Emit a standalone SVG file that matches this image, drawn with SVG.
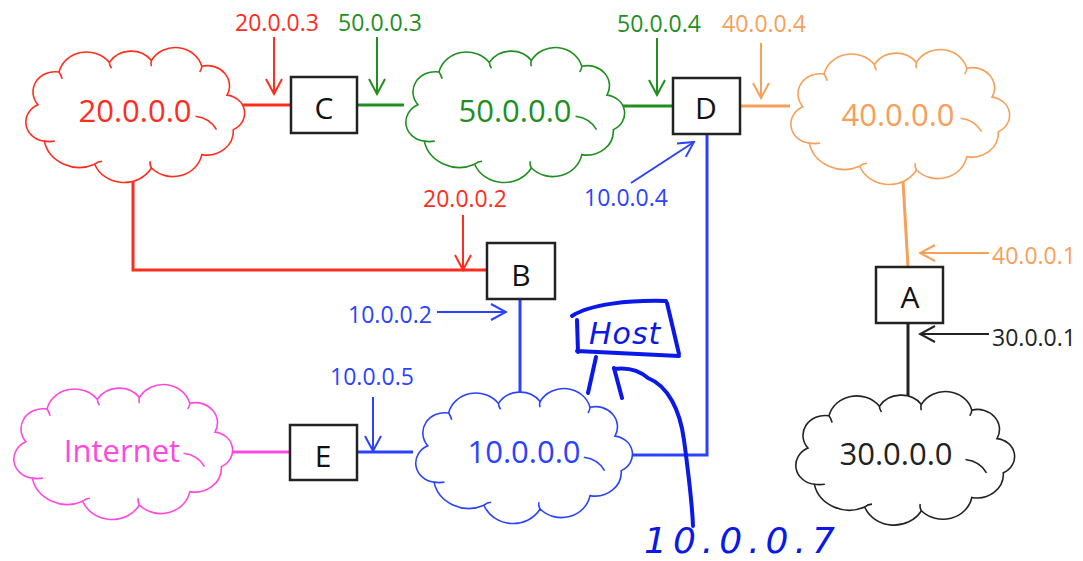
<svg xmlns="http://www.w3.org/2000/svg" xmlns:xlink="http://www.w3.org/1999/xlink" width="1083" height="561" viewBox="0 0 1083 561">
<style>
.bg{fill:#ffffff}
.cl{fill:#ffffff;stroke-width:1.6;vector-effect:non-scaling-stroke}
.tk{fill:none;stroke-width:1.6;vector-effect:non-scaling-stroke}
.box{fill:#ffffff;stroke:#222;stroke-width:2.5}
.bl{font-family:"Open Sans","Liberation Sans",sans-serif;font-size:30px;fill:#111;text-anchor:middle}
.cn{font-family:"Open Sans","Liberation Sans",sans-serif;font-size:31px;text-anchor:middle}
.ip{font-family:"Open Sans","Liberation Sans",sans-serif;font-size:23px;text-anchor:middle}
.ln{fill:none;stroke-width:3}
.ar{fill:none;stroke-width:2}
.red{stroke:#ff2d1e}.redf{fill:#ff2d1e}
.grn{stroke:#1f8f1f}.grnf{fill:#1f8f1f}
.org{stroke:#f7a05a}.orgf{fill:#f7a05a}
.blu{stroke:#2b43ff}.bluf{fill:#2b43ff}
.pnk{stroke:#ff48dd}.pnkf{fill:#ff48dd}
.blk{stroke:#222}.blkf{fill:#222}
.hw{fill:none;stroke:#0a18e8;stroke-width:4;stroke-linecap:round;stroke-linejoin:round}
.hwt{font-family:"DejaVu Sans","Liberation Sans",sans-serif;font-style:italic;fill:#0a18e8}
</style>
<defs>
<g id="cloud">
<path class="cl" d="M 20,58 A 21,21 0 0 1 40,24 A 27,27 0 0 1 88,14 A 24,24 0 0 1 128,12 A 26,26 0 0 1 176,18 A 21,21 0 0 1 200,48 A 19,19 0 0 1 206,84 A 25,25 0 0 1 176,110 A 28,28 0 0 1 128,124 A 30,30 0 0 1 74,120 A 34,34 0 0 1 26,96 A 20,20 0 0 1 20,58 Z"/>
<path class="tk" d="M 40,24 q 2,3 3,7 M 88,14 q 0,3 2,6 M 128,12 q -1,3 0,6 M 176,18 q 0,3 -2,6 M 170,70 Q 184,72 190,84 M 128,124 q -2,-4 -1,-7 M 74,120 q 3,-3 7,-3 M 26,96 q 5,1 10,0"/>
</g>
<marker id="mRed" viewBox="-18 -10 20 20" markerWidth="20" markerHeight="20" refX="0" refY="0" orient="auto" markerUnits="userSpaceOnUse"><path d="M-15,-8 L0,0 L-15,8" fill="none" stroke="#ff2d1e" stroke-width="2"/></marker>
<marker id="mGrn" viewBox="-18 -10 20 20" markerWidth="20" markerHeight="20" refX="0" refY="0" orient="auto" markerUnits="userSpaceOnUse"><path d="M-15,-8 L0,0 L-15,8" fill="none" stroke="#1f8f1f" stroke-width="2"/></marker>
<marker id="mOrg" viewBox="-18 -10 20 20" markerWidth="20" markerHeight="20" refX="0" refY="0" orient="auto" markerUnits="userSpaceOnUse"><path d="M-15,-8 L0,0 L-15,8" fill="none" stroke="#f7a05a" stroke-width="2"/></marker>
<marker id="mBlu" viewBox="-18 -10 20 20" markerWidth="20" markerHeight="20" refX="0" refY="0" orient="auto" markerUnits="userSpaceOnUse"><path d="M-15,-8 L0,0 L-15,8" fill="none" stroke="#2b43ff" stroke-width="2"/></marker>
<marker id="mBlk" viewBox="-18 -10 20 20" markerWidth="20" markerHeight="20" refX="0" refY="0" orient="auto" markerUnits="userSpaceOnUse"><path d="M-15,-8 L0,0 L-15,8" fill="none" stroke="#222" stroke-width="2"/></marker>
</defs>
<rect class="bg" x="0" y="0" width="1083" height="561"/>

<g id="connectors">
<line class="ln red" x1="240" y1="105" x2="291" y2="105"/>
<polyline class="ln red" points="133,180 133,270 487,270"/>
<line class="ln grn" x1="357" y1="105" x2="404" y2="105"/>
<line class="ln grn" x1="620" y1="106" x2="673" y2="106"/>
<line class="ln org" x1="740" y1="106" x2="790" y2="106"/>
<line class="ln org" x1="903" y1="181" x2="908" y2="267"/>
<line class="ln blk" x1="908" y1="323" x2="908" y2="400"/>
<line class="ln blu" x1="520" y1="299" x2="520" y2="396"/>
<polyline class="ln blu" points="707,134 707,455 629,455"/>
<line class="ln blu" x1="357" y1="452" x2="413" y2="452"/>
<line class="ln pnk" x1="229" y1="452" x2="290" y2="452"/>
</g>

<g id="net20">
<use xlink:href="#cloud" href="#cloud" class="red" transform="translate(17,49) scale(1.05,0.96)"/>
<text class="cn redf" x="135" y="122">20.0.0.0</text>
</g>
<g id="net50">
<use xlink:href="#cloud" href="#cloud" class="grn" transform="translate(397,49) scale(1.05,0.96)"/>
<text class="cn grnf" x="515" y="122">50.0.0.0</text>
</g>
<g id="net40">
<use xlink:href="#cloud" href="#cloud" class="org" transform="translate(782,51) scale(1.05,0.96)"/>
<text class="cn orgf" x="898" y="126">40.0.0.0</text>
</g>
<g id="internet">
<use xlink:href="#cloud" href="#cloud" class="pnk" transform="translate(5,386) scale(1.05,0.96)"/>
<text class="cn pnkf" x="122" y="462">Internet</text>
</g>
<g id="net10">
<use xlink:href="#cloud" href="#cloud" class="blu" transform="translate(407,390) scale(1.04,0.96)"/>
<text class="cn bluf" x="524" y="463">10.0.0.0</text>
</g>
<g id="net30">
<use xlink:href="#cloud" href="#cloud" class="blk" transform="translate(787,393) scale(1.05,0.95)"/>
<text class="cn blkf" x="896" y="465">30.0.0.0</text>
</g>

<g id="routerC"><rect class="box" x="291" y="77" width="66" height="56"/><text class="bl" x="324" y="119">C</text></g>
<g id="routerD"><rect class="box" x="673" y="78" width="67" height="56"/><text class="bl" x="706" y="119">D</text></g>
<g id="routerB"><rect class="box" x="487" y="243" width="68" height="56"/><text class="bl" x="521" y="286">B</text></g>
<g id="routerA"><rect class="box" x="876" y="267" width="67" height="56"/><text class="bl" x="910" y="308">A</text></g>
<g id="routerE"><rect class="box" x="290" y="425" width="67" height="55"/><text class="bl" x="323" y="467">E</text></g>

<g id="labels">
<text class="ip redf" x="277" y="31">20.0.0.3</text>
<line class="ar red" x1="274" y1="37" x2="274" y2="94" marker-end="url(#mRed)"/>
<text class="ip grnf" x="380" y="31">50.0.0.3</text>
<line class="ar grn" x1="377" y1="37" x2="377" y2="94" marker-end="url(#mGrn)"/>
<text class="ip grnf" x="659" y="32">50.0.0.4</text>
<line class="ar grn" x1="657" y1="38" x2="657" y2="95" marker-end="url(#mGrn)"/>
<text class="ip orgf" x="764" y="32">40.0.0.4</text>
<line class="ar org" x1="761" y1="43" x2="761" y2="98" marker-end="url(#mOrg)"/>
<text class="ip bluf" x="626" y="206">10.0.0.4</text>
<line class="ar blu" x1="631" y1="183" x2="694" y2="142" marker-end="url(#mBlu)"/>
<text class="ip redf" x="465" y="207">20.0.0.2</text>
<line class="ar red" x1="463" y1="215" x2="463" y2="270" marker-end="url(#mRed)"/>
<text class="ip bluf" x="390" y="323">10.0.0.2</text>
<line class="ar blu" x1="437" y1="312" x2="506" y2="312" marker-end="url(#mBlu)"/>
<text class="ip bluf" x="372" y="385">10.0.0.5</text>
<line class="ar blu" x1="373" y1="397" x2="373" y2="451" marker-end="url(#mBlu)"/>
<text class="ip orgf" x="1034" y="264">40.0.0.1</text>
<line class="ar org" x1="989" y1="253" x2="920" y2="253" marker-end="url(#mOrg)"/>
<text class="ip blkf" x="1034" y="346">30.0.0.1</text>
<line class="ar blk" x1="989" y1="334" x2="920" y2="334" marker-end="url(#mBlk)"/>
</g>

<g id="host">
<path class="hw" d="M 572,316 C 590,304 630,300 666,301 M 667,303 L 679,354 M 577,351 L 679,356 M 577,320 L 578,352 M 596,357 L 588,393"/>
<text class="hwt" x="589" y="344" font-size="30" letter-spacing="1">Host</text>
</g>
<g id="hostAddr">
<path class="hw" d="M 614,368 L 622,398 M 614,369 C 628,367 640,371 648,378 C 668,386 680,410 684,440 C 688,470 692,500 693,526"/>
<text class="hwt" x="644" y="553" font-size="36" letter-spacing="6">10.0.0.7</text>
</g>
</svg>
